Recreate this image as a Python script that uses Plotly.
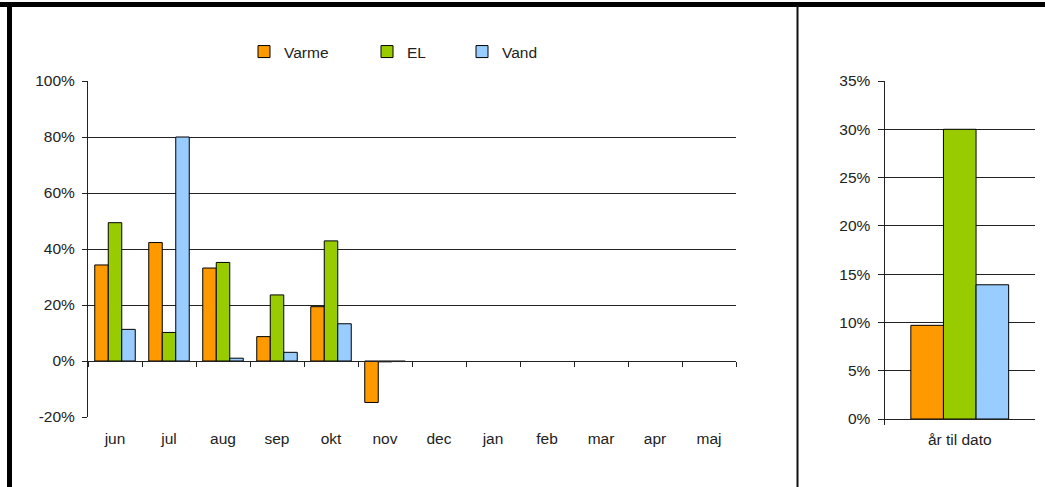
import plotly.graph_objects as go

# ---------------- data ----------------
months = ["jun", "jul", "aug", "sep", "okt", "nov", "dec", "jan", "feb", "mar", "apr", "maj"]
varme = [34.3, 42.3, 33.2, 8.7, 19.4, -14.8, None, None, None, None, None, None]
el = [49.4, 10.2, 35.2, 23.6, 42.9, -0.3, None, None, None, None, None, None]
vand = [11.3, 80.0, 1.0, 3.1, 13.3, -0.2, None, None, None, None, None, None]

ytd_label = ["år til dato"]
ytd_varme = [9.7]
ytd_el = [30.0]
ytd_vand = [13.9]

left_ticks = [-20, 0, 20, 40, 60, 80, 100]
left_grid = [20, 40, 60, 80]
right_ticks = [0, 5, 10, 15, 20, 25, 30, 35]
right_grid = [5, 10, 15, 20, 25, 30]

series_names = ["Varme", "EL", "Vand"]
colors = ["#FF9900", "#99CC00", "#99CCFF"]

# ---------------- layout geometry ----------------
W, H = 1045, 487
def px_x(p):
    return p / W
def px_y(p):
    return 1 - p / H

L_dom_x = [px_x(88), px_x(736)]
L_dom_y = [px_y(417), px_y(81)]
R_dom_x = [px_x(884.5), px_x(1035)]
R_dom_y = [px_y(419), px_y(81)]
L_range = [-20, 100]
R_range = [0, 35]
zero_frac = L_dom_y[0] + (0 - L_range[0]) / (L_range[1] - L_range[0]) * (L_dom_y[1] - L_dom_y[0])

FONT = "Liberation Sans, Arial, sans-serif"
LINE = "#222222"
legend_ids = ["legend", "legend2", "legend3"]
legend_x_px = [244, 367, 462]

fig = go.Figure()

# left chart bars
for name, vals, col, lg in zip(series_names, [varme, el, vand], colors, legend_ids):
    fig.add_trace(go.Bar(x=months, y=vals, name=name, legend=lg,
                         marker=dict(color=col, line=dict(color="black", width=1)),
                         xaxis="x", yaxis="y"))

# helper trace to define category axis that carries the zero line with boundary ticks
fig.add_trace(go.Scatter(x=months, y=[0] * len(months), mode="markers", marker=dict(opacity=0),
                         showlegend=False, hoverinfo="skip", xaxis="x2", yaxis="y"))

# right chart bars
bw = 0.2167
offsets = [-1.5 * bw, -0.5 * bw, 0.5 * bw]
for name, vals, col, off in zip(series_names, [ytd_varme, ytd_el, ytd_vand], colors, offsets):
    fig.add_trace(go.Bar(x=ytd_label, y=vals, name=name, showlegend=False, width=bw, offset=off,
                         marker=dict(color=col, line=dict(color="black", width=1)),
                         xaxis="x4", yaxis="y4"))

axis_font = dict(family=FONT, size=15.5, color="#222")

def legend_box(xpx):
    return dict(orientation="h", x=px_x(xpx), y=px_y(52), xanchor="left", yanchor="middle",
                font=dict(family=FONT, size=15.5, color="#222"), bgcolor="rgba(0,0,0,0)",
                itemwidth=30, tracegroupgap=0)

fig.update_layout(
    width=W, height=H,
    margin=dict(l=0, r=0, t=0, b=0, pad=0, autoexpand=False),
    paper_bgcolor="white", plot_bgcolor="rgba(0,0,0,0)",
    font=axis_font,
    barmode="group", bargap=0.25, bargroupgap=0,
    showlegend=True,
    legend=legend_box(legend_x_px[0]),
    legend2=legend_box(legend_x_px[1]),
    legend3=legend_box(legend_x_px[2]),
    # ---- left chart ----
    xaxis=dict(domain=L_dom_x, anchor="y", type="category", categoryorder="array", categoryarray=months,
               range=[-0.5, 11.5], showline=False, ticks="", showgrid=False, zeroline=False,
               ticklabelstandoff=10, tickfont=axis_font),
    xaxis2=dict(overlaying="x", anchor="free", position=zero_frac, type="category",
                categoryorder="array", categoryarray=months, range=[-0.5, 11.5],
                showline=True, linecolor=LINE, linewidth=1, ticks="outside", ticklen=5,
                tickcolor=LINE, tickson="boundaries", showticklabels=False, showgrid=False, zeroline=False),
    yaxis=dict(domain=L_dom_y, anchor="x", range=L_range, tickvals=left_grid, showgrid=True,
               gridcolor=LINE, gridwidth=1, showticklabels=False, ticks="", showline=False, zeroline=False),
    yaxis3=dict(overlaying="y", anchor="x", side="left", range=L_range, tickvals=left_ticks,
                ticktext=[f"{v}%" for v in left_ticks], showgrid=False, zeroline=False,
                showline=True, linecolor=LINE, linewidth=1, ticks="outside", ticklen=5, tickcolor=LINE,
                ticklabelstandoff=4, tickfont=axis_font),
    # ---- right chart ----
    xaxis4=dict(domain=R_dom_x, anchor="y4", type="category", range=[-0.5, 0.5],
                showline=True, linecolor=LINE, linewidth=1, ticks="outside", ticklen=5, tickcolor=LINE,
                tickson="boundaries", showgrid=False, zeroline=False, ticklabelstandoff=6, tickfont=axis_font),
    yaxis4=dict(domain=R_dom_y, anchor="x4", range=R_range, tickvals=right_grid, showgrid=True,
                gridcolor=LINE, gridwidth=1, showticklabels=False, ticks="", showline=False, zeroline=False),
    yaxis5=dict(overlaying="y4", anchor="x4", side="left", range=R_range, tickvals=right_ticks,
                ticktext=[f"{v}%" for v in right_ticks], showgrid=False, zeroline=False,
                showline=True, linecolor=LINE, linewidth=1, ticks="outside", ticklen=6, tickcolor=LINE,
                ticklabelstandoff=4, tickfont=axis_font),
)

# yaxis3 / yaxis5 need a trace to be drawn: attach invisible helpers
fig.add_trace(go.Scatter(x=months, y=[0] * len(months), mode="markers", marker=dict(opacity=0),
                         showlegend=False, hoverinfo="skip", xaxis="x", yaxis="y3"))
fig.add_trace(go.Scatter(x=ytd_label, y=[0], mode="markers", marker=dict(opacity=0),
                         showlegend=False, hoverinfo="skip", xaxis="x4", yaxis="y5"))

# frame decorations (thick top and left border, divider)
fig.add_shape(type="line", xref="paper", yref="paper", x0=0, x1=1, y0=px_y(4.5), y1=px_y(4.5),
              line=dict(color="black", width=5))
fig.add_shape(type="line", xref="paper", yref="paper", x0=px_x(9.5), x1=px_x(9.5), y0=0, y1=px_y(2),
              line=dict(color="black", width=5))
fig.add_shape(type="line", xref="paper", yref="paper", x0=px_x(797.5), x1=px_x(797.5), y0=0, y1=px_y(5),
              line=dict(color="#111", width=2))

fig.write_html("out.html", config={"displayModeBar": False},
               post_script="document.body.style.margin='0';")
